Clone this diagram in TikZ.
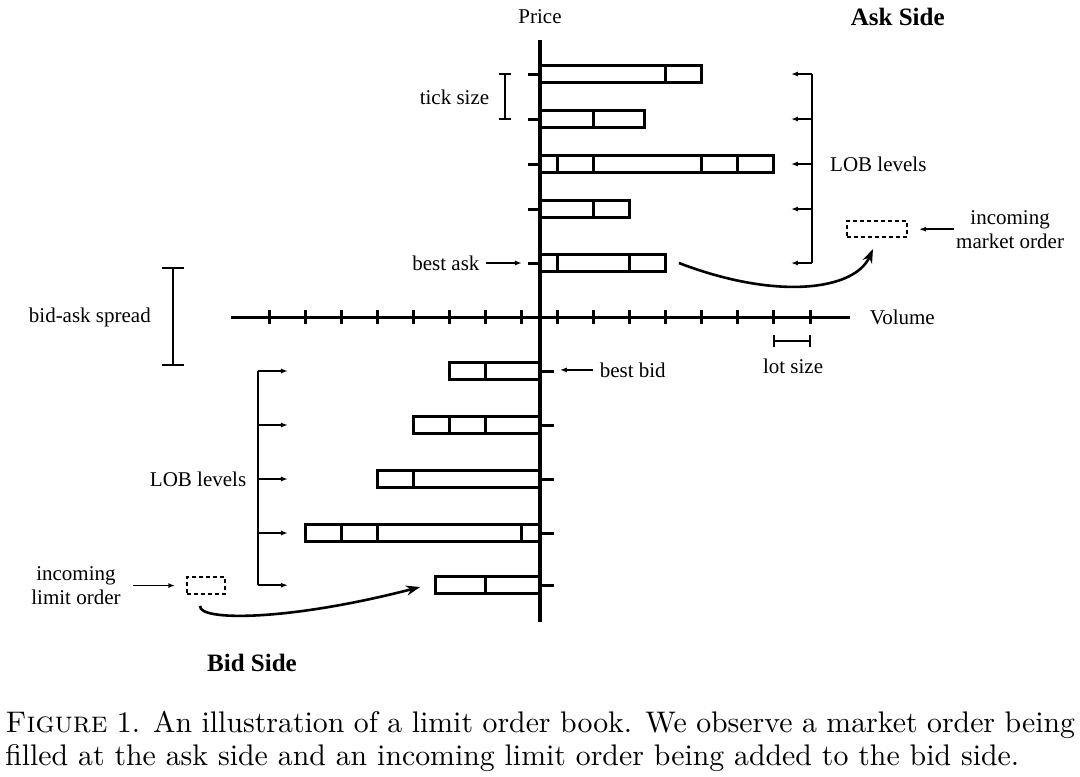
\documentclass[tikz,border=0pt]{standalone}
\usepackage{fontspec}
\newfontfamily\labfont{Liberation Serif}
\usetikzlibrary{calc}
\usetikzlibrary{arrows.meta}

\begin{document}
\begin{tikzpicture}[x=36pt, y=36pt,
  bar/.style={line width=3pt},
  brk/.style={line width=2pt},
  ptr/.style={line width=1.8pt, -{Latex[length=7pt,width=5pt]}},
  lab/.style={font=\labfont\fontsize{21}{24}\selectfont, inner sep=2pt},
  side/.style={font=\labfont\bfseries\fontsize{25}{28}\selectfont},
  order/.style={draw, line width=2pt, dash pattern=on 4pt off 3pt, minimum width=60pt, minimum height=16pt, inner sep=0pt},
  swoop/.style={line width=2.6pt, -{Stealth[length=14pt,width=10pt]}},
  capline/.style={anchor=base west, inner sep=0pt, scale=2.98}]
\useasboundingbox (-15,-12.75) rectangle (15,8.806);

% axes
\draw[line width=3.5pt] (0,-8.47)--(0,7.7);
\draw[line width=3pt] (-8.58,0)--(8.61,0);
\foreach \x in {0.5, 1.5, ..., 7.5} \draw[line width=3pt] (\x,-.2)--(\x,.2) (-\x,-.2)--(-\x,.2);
\node[lab] (price) at (0,8.33) {Price};
\node[lab, anchor=west] (volume) at (9.1,0) {Volume};
\node[side] (askside) at (9.94,8.33) {Ask Side};
\node[side] (bidside) at (-8.0,-9.61) {Bid Side};

% ask side: level / bar end / cuts
\foreach \lev/\len/\cuts in {6.75/4.5/{3.5}, 5.5/2.9/{1.5}, 4.25/6.5/{0.5,1.5,4.5,5.5}, 3/2.5/{1.5}, 1.5/3.5/{0.5,2.5}} {
  \draw[bar] (0,\lev-.23) rectangle (\len,\lev+.23);
  \foreach \c in \cuts \draw[bar] (\c,\lev-.23)--(\c,\lev+.23);
  \draw[bar] (-.33,\lev)--(0,\lev);
  \draw[ptr] (7.56,\lev)--(6.97,\lev);
}
\draw[brk] (7.56,6.75)--(7.56,1.5);
\node[lab, anchor=west] (asklob) at (8.0,4.25) {LOB levels};

% bid side: level / bar start / cuts
\foreach \lev/\len/\cuts in {-1.5/-2.5/{-1.5}, -3/-3.5/{-2.5,-1.5}, -4.5/-4.5/{-3.5}, -6/-6.5/{-5.5,-4.5,-0.5}, -7.45/-2.9/{-1.5}} {
  \draw[bar] (\len,\lev-.23) rectangle (0,\lev+.23);
  \foreach \c in \cuts \draw[bar] (\c,\lev-.23)--(\c,\lev+.23);
  \draw[bar] (0,\lev)--(.4,\lev);
  \draw[ptr] (-7.83,\lev)--(-7.0,\lev);
}
\draw[brk] (-7.83,-1.5)--(-7.83,-7.45);
\node[lab, anchor=east] (bidlob) at (-8.1,-4.5) {LOB levels};

% brackets
\draw[brk] (-.97,6.75)--(-.97,5.5) (-1.14,6.75)--(-.8,6.75) (-1.14,5.5)--(-.8,5.5);
\node[lab, anchor=east] (ticklbl) at (-1.35,6.1) {tick size};
\draw[brk] (-10.19,1.36)--(-10.19,-1.33) (-10.5,1.36)--(-9.88,1.36) (-10.5,-1.33)--(-9.88,-1.33);
\node[lab, anchor=east] (spreadlbl) at (-10.75,0) {bid-ask spread};
\draw[brk] (6.5,-.67)--(7.5,-.67) (6.5,-.5)--(6.5,-.84) (7.5,-.5)--(7.5,-.84);
\node[lab] (lotlbl) at (7.03,-1.38) {lot size};

% best quotes
\coordinate (askstub) at (-.5,1.5);
\coordinate (bidstub) at (.55,-1.47);
\node[lab, anchor=east] (bestasklbl) at (-1.62,1.5) {best ask};
\draw[ptr, shorten <=4pt] (bestasklbl) -- (askstub);
\node[lab, anchor=west] (bestbidlbl) at (1.6,-1.47) {best bid};
\draw[ptr, shorten <=5pt] (bestbidlbl) -- (bidstub);

% incoming orders
\node[order] (mkt) at (9.36,2.44) {};
\node[lab, align=center, anchor=west] (mktlbl) at (11.5,2.44) {incoming\\market order};
\draw[ptr, shorten >=11pt] (mktlbl) -- (mkt);
\coordinate (askcurve) at (3.86,1.5);
\draw[swoop] (askcurve) .. controls (6.6,0.45) and (8.75,0.75) .. ($(mkt.south)+(-.11,-.3)$);

\node[order, minimum width=38pt, minimum height=17pt] (lim) at (-9.27,-7.46) {};
\node[lab, align=center] (limlbl) at (-12.89,-7.46) {incoming\\limit order};
\draw[ptr, shorten <=10pt, shorten >=11pt] (limlbl) -- (lim);
\coordinate (limbar) at (-2.9,-7.45);
\draw[swoop] ($(lim.south)+(-.17,-.3)$) .. controls (-9.5,-8.45) and (-7.0,-8.45) .. ($(limbar)+(-.43,-.05)$);

% caption
\node[capline] (capone) at (-14.87,-11.547) {\hbox to 359pt{\textsc{Figure} 1. An illustration of a limit order book. We observe a market order being}};
\node[capline] (captwo) at (-14.87,-12.453) {filled at the ask side and an incoming limit order being added to the bid side.};
\end{tikzpicture}
\end{document}
